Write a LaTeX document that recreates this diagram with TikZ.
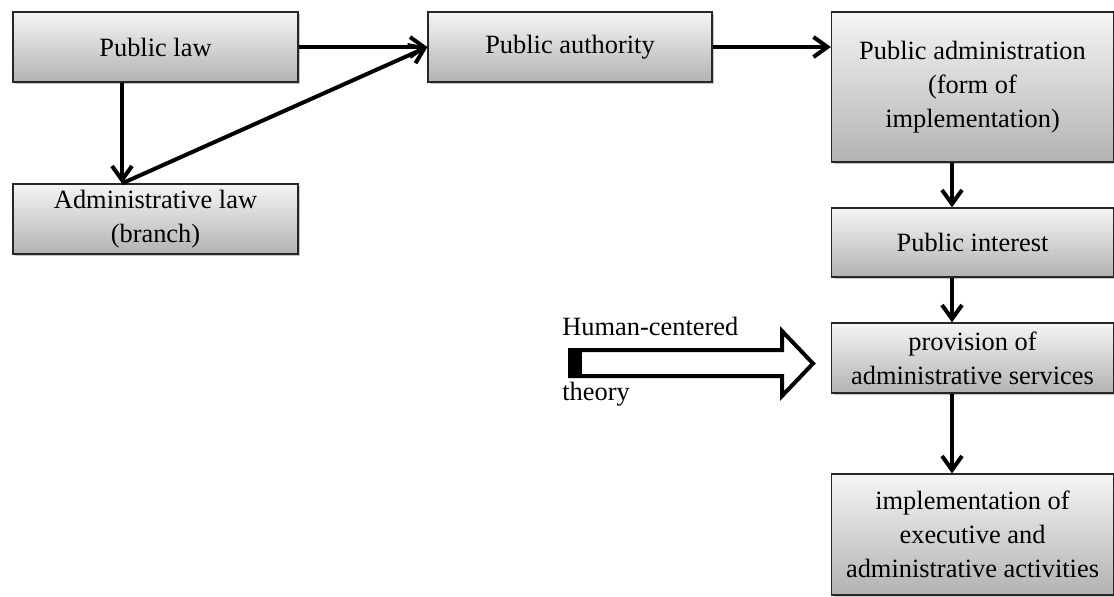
\documentclass[tikz,border=0pt]{standalone}
\usepackage{fontspec}
\setmainfont{Liberation Serif}
\usetikzlibrary{arrows.meta,shadows}

\begin{document}
\begin{tikzpicture}[x=0.5pt,y=-0.5pt]
\tikzstyle{mybox} = [draw=black!85, line width=0.6pt, top color=black!4, bottom color=black!30, align=center, inner sep=0pt, font=\fontsize{13.2}{17}\selectfont, drop shadow={shadow xshift=1.2pt, shadow yshift=-1.2pt, opacity=0.45}]
\tikzstyle{myarrow} = [line width=2pt, -{Straight Barb[length=7pt, width=10pt]}]
\tikzset{lawbox/.style={mybox, minimum width=142.5pt, minimum height=35pt}, rightbox/.style={mybox, minimum width=141pt}}
\useasboundingbox (0,0) rectangle (1114,596);
\coordinate (lx) at (122,0);
\coordinate (rx) at (952,0);
\node [lawbox] (plaw) at (155.5,47) {Public law};
\node [lawbox] (alaw) at (155.5,219) {Administrative law\\(branch)};
\node [lawbox, minimum width=142pt] (pauth) at (570,47) {Public authority};
\node [rightbox, minimum height=75pt] (padm) at (972.5,87) {Public administration\\(form of\\implementation)};
\node [rightbox, minimum height=34.5pt] (pint) at (972.5,242.5) {Public interest};
\node [rightbox, minimum height=35pt] (prov) at (972.5,358) {provision of\\administrative services};
\node [rightbox, minimum height=60.5pt] (impl) at (972.5,534.5) {implementation of\\executive and\\administrative activities};
\draw [myarrow] (plaw) -- (pauth);
\draw [myarrow] (plaw.south -| lx) -- (alaw.north -| lx);
\draw [myarrow] (alaw.north -| lx) -- (pauth.west);
\draw [myarrow] (pauth.east) -- (pauth.east -| padm.west);
\draw [myarrow] (padm.south -| rx) -- (pint.north -| rx);
\draw [myarrow] (pint.south -| rx) -- (prov.north -| rx);
\draw [myarrow] (prov.south -| rx) -- (impl.north -| rx);
% hollow block arrow
\draw [line width=2pt, fill=white, miter limit=4] (570,350) -- (782,350) -- (782,331) -- (813,363.5) -- (782,396) -- (782,376) -- (570,376) -- cycle;
\fill (569,349) rectangle (582,377);
\node [anchor=base west, inner sep=0pt, font=\fontsize{13.2}{17}\selectfont] (hc) at (562,335) {Human-centered};
\node [anchor=base west, inner sep=0pt, font=\fontsize{13.2}{17}\selectfont] (th) at (562,400) {theory};
\end{tikzpicture}
\end{document}
